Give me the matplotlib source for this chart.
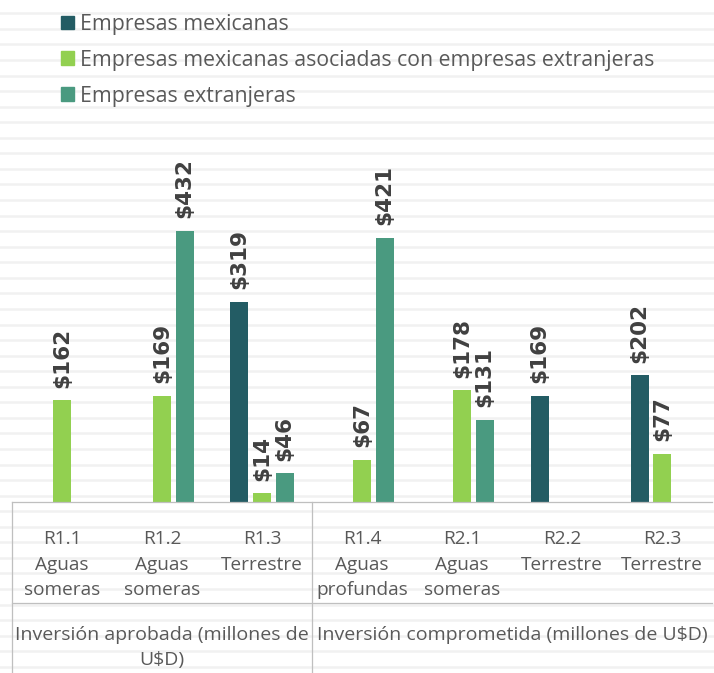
import numpy as np
import matplotlib
matplotlib.use('Agg')
import matplotlib.pyplot as plt
from matplotlib.lines import Line2D
from matplotlib.patches import Patch

# data
categorias = ['R1.1\nAguas\nsomeras', 'R1.2\nAguas\nsomeras', 'R1.3\nTerrestre',
              'R1.4\nAguas\nprofundas', 'R2.1\nAguas\nsomeras', 'R2.2\nTerrestre',
              'R2.3\nTerrestre']
mexicanas = [np.nan, np.nan, 319, np.nan, np.nan, 169, 202]
asociadas = [162, 169, 14, 67, 178, np.nan, 77]
extranjeras = [np.nan, 432, 46, 421, 131, np.nan, np.nan]
series = ['Empresas mexicanas',
          'Empresas mexicanas asociadas con empresas extranjeras',
          'Empresas extranjeras']
grupos = ['Inversión aprobada (millones de\nU$D)',
          'Inversión comprometida (millones de U$D)']
colores = ['#235C64', '#92D050', '#4A9A80']

W, H = 714, 673
fig = plt.figure(figsize=(W / 100, H / 100), dpi=100)

# faint spreadsheet rows in the background
for py in np.arange(13.3, H, 15.56):
    fig.add_artist(Line2D([0, 1], [1 - py / H] * 2, color='#F1F1F1', lw=1.8, zorder=0))

ax_l, ax_r, ax_b, ax_t = 12, 712, 502, 130
ax = fig.add_axes([ax_l / W, 1 - ax_b / H, (ax_r - ax_l) / W, (ax_b - ax_t) / H])
ax.patch.set_visible(False)

x = np.arange(len(categorias))
ancho = 0.18
desp = 0.225
for i, vals in enumerate([mexicanas, asociadas, extranjeras]):
    pos = x + (i - 1) * desp
    ax.bar(pos, vals, ancho, color=colores[i], label=series[i], zorder=2)
    for xp, v in zip(pos, vals):
        if np.isnan(v):
            continue
        ax.annotate('$%d' % v, (xp, v), xytext=(0, 9), textcoords='offset points',
                    rotation=90, ha='center', va='bottom', fontsize=15.5,
                    fontweight='bold', color='#404040', family='DejaVu Sans')

ax.set_xlim(-0.5, len(categorias) - 0.5)
ax.set_ylim(0, 593)
ax.set_xticks([])
ax.set_yticks([])
for s in ax.spines.values():
    s.set_visible(False)

def fx(px):
    return (px - ax_l) / (ax_r - ax_l)

def fy(py):
    return (ax_b - py) / (ax_b - ax_t)

# table lines under the plot
linea = dict(color='#BFBFBF', lw=0.9, transform=ax.transAxes, clip_on=False)
ax.add_line(Line2D([0, 1], [0, 0], **linea))
ax.add_line(Line2D([0, 1], [fy(603)] * 2, **linea))
ax.add_line(Line2D([0, 0], [0, fy(H)], **linea))
ax.add_line(Line2D([fx(312)] * 2, [0, fy(H)], **linea))

fuente = 'Open Sans'
for xi, lab in zip(x, categorias):
    ax.text(xi, fy(530), lab, transform=ax.get_xaxis_transform(), ha='center', va='top',
            fontsize=13.7, color='#595959', family=fuente, linespacing=1.55)

ax.text(fx(162), fy(626), grupos[0], transform=ax.transAxes, ha='center', va='top',
        fontsize=14, color='#595959', family=fuente, linespacing=1.5)
ax.text(fx(512), fy(626), grupos[1], transform=ax.transAxes, ha='center', va='top',
        fontsize=14, color='#595959', family=fuente, linespacing=1.5)

handles = [Patch(color=c) for c in colores]
fig.legend(handles, series, loc='upper left', bbox_to_anchor=(46 / W, 1 + 1 / H),
           frameon=False, handlelength=0.62, handleheight=0.62, handletextpad=0.3,
           borderpad=0.2, labelspacing=0.7, prop={'family': fuente, 'size': 15.3},
           labelcolor='#595959')

fig.savefig('out.png', dpi=100)
